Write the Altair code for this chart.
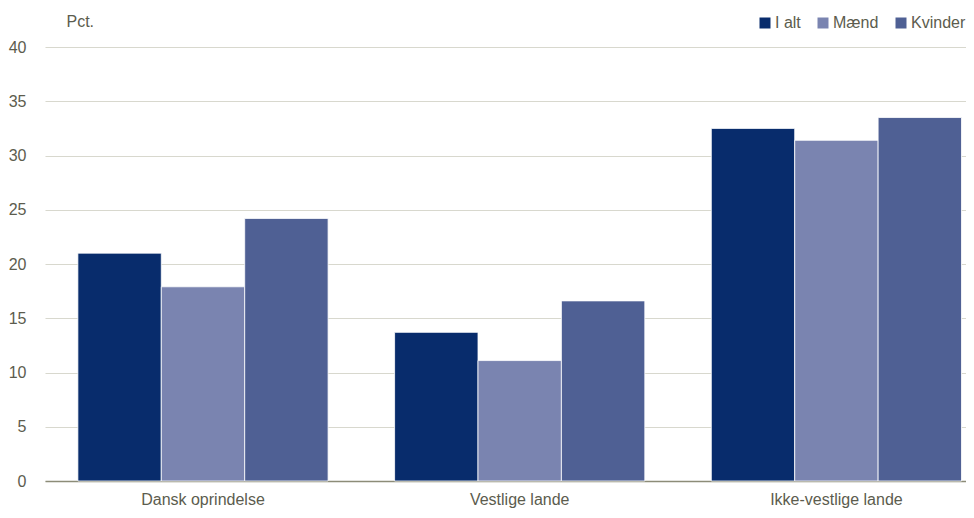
import altair as alt
import pandas as pd

categories = ["Dansk oprindelse", "Vestlige lande", "Ikke-vestlige lande"]
series = ["I alt", "Mænd", "Kvinder"]
i_alt = [21.0, 13.7, 32.5]
maend = [17.9, 11.1, 31.4]
kvinder = [24.2, 16.6, 33.5]
colors = ["#082c6c", "#7a84b0", "#4f6094"]
y_ticks = [0, 5, 10, 15, 20, 25, 30, 35, 40]

rows = []
for s, vals in zip(series, [i_alt, maend, kvinder]):
    for c, v in zip(categories, vals):
        rows.append({"Kategori": c, "Serie": s, "Pct": v})
df = pd.DataFrame(rows)

FONT = "Liberation Sans, Arial, sans-serif"
TXT = "#5c5c4e"
FS = 16

bars = alt.Chart(df).mark_bar(stroke="white", strokeWidth=0.8).encode(
    x=alt.X("Kategori:N", sort=categories,
            scale=alt.Scale(paddingInner=0.21, paddingOuter=0.059, align=0.88),
            axis=alt.Axis(title=None, labelAngle=0, labelFont=FONT, labelFontSize=FS,
                          labelColor=TXT, ticks=False, domain=True, domainColor="#8c8c78",
                          domainWidth=1.5, labelPadding=10)),
    xOffset=alt.XOffset("Serie:N", sort=series, scale=alt.Scale(paddingInner=0, paddingOuter=0)),
    y=alt.Y("Pct:Q", scale=alt.Scale(domain=[0, 40], nice=False),
            axis=alt.Axis(values=y_ticks, title="Pct.", titleAngle=0, titleX=21, titleY=-26,
                          titleAlign="left", titleBaseline="middle", titleFont=FONT,
                          titleFontSize=FS, titleFontWeight="normal", titleColor=TXT,
                          labelFont=FONT, labelFontSize=FS, labelColor=TXT,
                          labelAlign="right", labelPadding=19, tickSize=0, ticks=False,
                          domain=False, grid=True, gridColor="#d8d8ce", gridWidth=1.2)),
    color=alt.Color("Serie:N", sort=series,
                    scale=alt.Scale(domain=series, range=colors),
                    legend=alt.Legend(title=None, orient="none", direction="horizontal",
                                      legendX=712, legendY=-32, symbolType="square",
                                      symbolSize=121, symbolStrokeWidth=0,
                                      labelFont=FONT, labelFontSize=FS, labelColor=TXT,
                                      labelOffset=2, columnPadding=14, padding=0)),
)

chart = bars.properties(
    width=921, height=434,
    padding={"left": 37, "top": 39, "right": 0, "bottom": 29},
    autosize=alt.AutoSizeParams(type="none"),
    background="white",
).configure_view(stroke=None)

chart.save("out.html", embed_options={"renderer": "svg", "actions": False})
